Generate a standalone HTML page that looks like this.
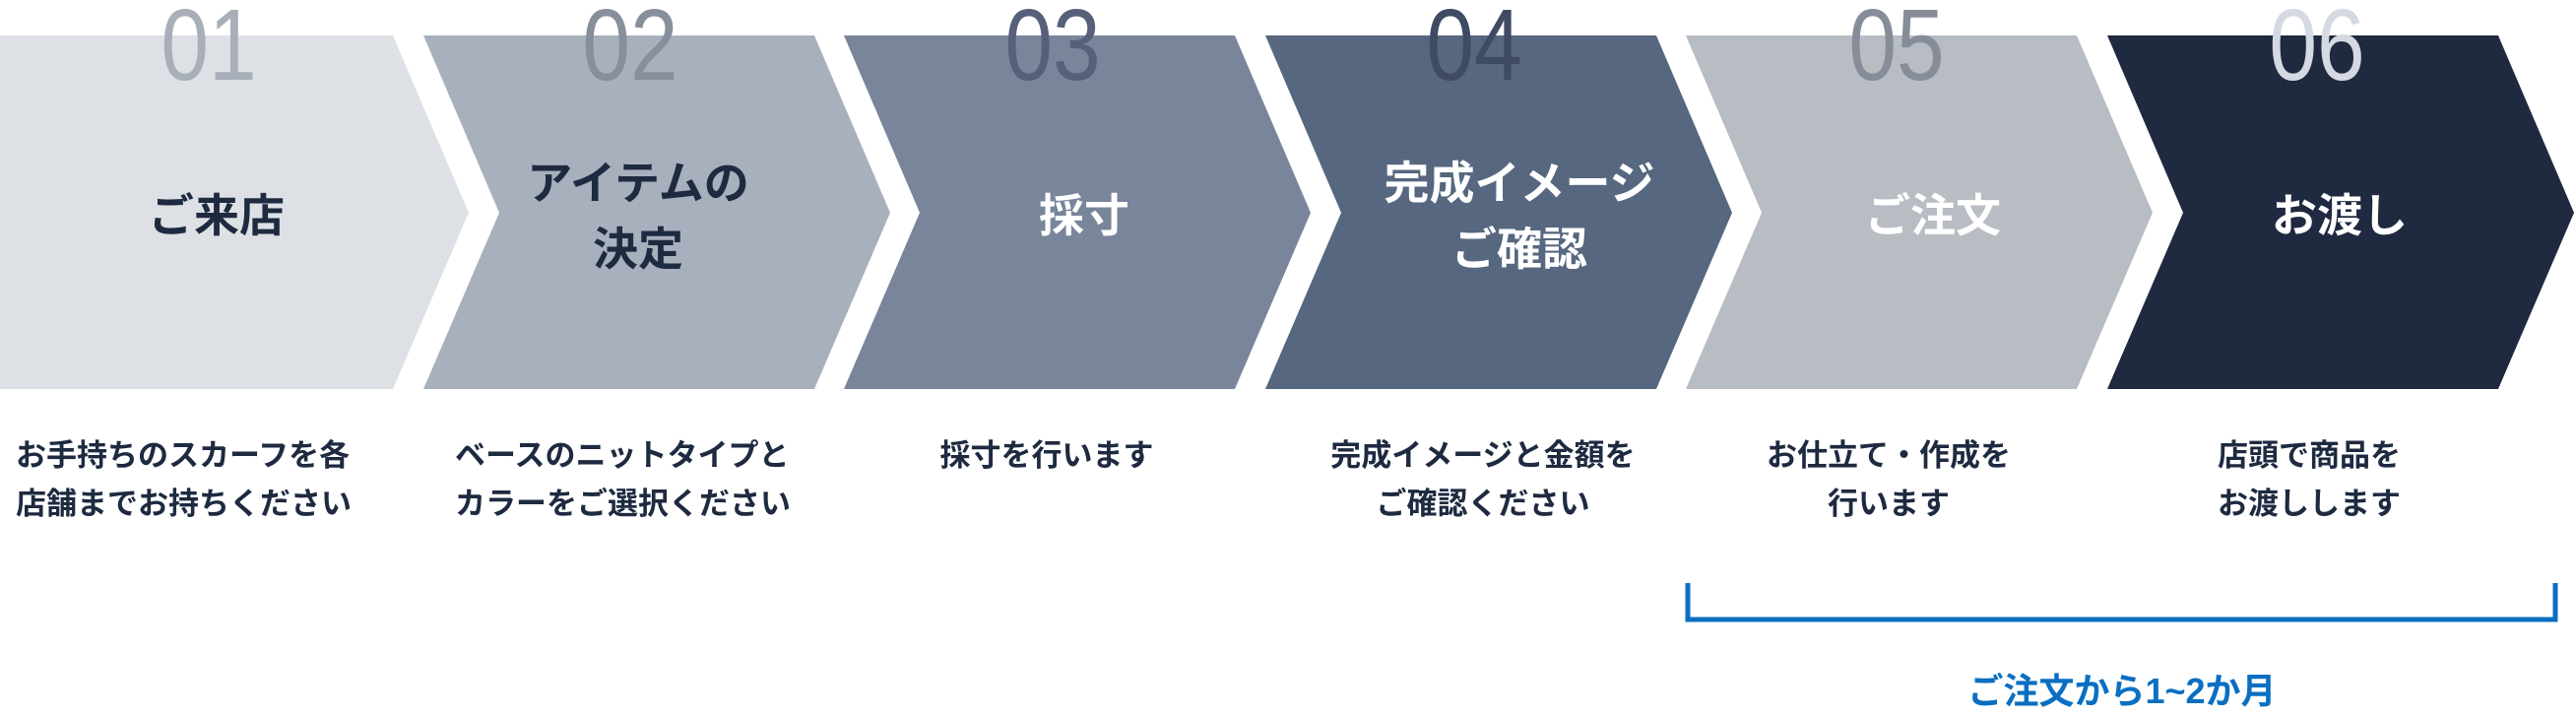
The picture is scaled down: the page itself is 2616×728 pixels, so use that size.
<!DOCTYPE html>
<html><head><meta charset="utf-8"><style>
html,body{margin:0;padding:0;background:#fff;}
svg{display:block}
.t{font-family:"Liberation Sans","Noto Sans CJK JP",sans-serif;font-weight:bold;}
.n{font-family:"Liberation Sans",sans-serif;font-size:103px;font-weight:300;}
</style></head><body>
<svg width="2616" height="728" viewBox="0 0 2616 728" xmlns="http://www.w3.org/2000/svg">
<polygon points="0,36 399,36 476,216 399,395 0,395" fill="#dde0e5"/>
<polygon points="430,36 827,36 904,216 827,395 430,395 507,216" fill="#a9b0bd"/>
<polygon points="857,36 1254,36 1331,216 1254,395 857,395 934,216" fill="#79859a"/>
<polygon points="1285,36 1682,36 1759,216 1682,395 1285,395 1362,216" fill="#56677f"/>
<polygon points="1712,36 2109,36 2186,216 2109,395 1712,395 1789,216" fill="#b8bdc4"/>
<polygon points="2140,36 2537,36 2614,216 2537,395 2140,395 2217,216" fill="#1f2940"/>

<g class="n" text-anchor="middle">
<text transform="translate(212,81) scale(0.85,1)" fill="#a9afb9">01</text>
<text transform="translate(640,81) scale(0.85,1)" fill="#878f9c">02</text>
<text transform="translate(1069,81) scale(0.85,1)" fill="#56607a">03</text>
<text transform="translate(1497,81) scale(0.85,1)" fill="#3f4b62">04</text>
<text transform="translate(1926,81) scale(0.85,1)" fill="#868d99">05</text>
<text transform="translate(2353,81) scale(0.85,1)" fill="#d4d9e2">06</text>
</g>

<g class="t" font-size="46" text-anchor="middle">
<text x="220" y="235" fill="#1e2a40">ご来店</text>
<text x="648" y="202" fill="#1e2a40">アイテムの</text>
<text x="648" y="269" fill="#1e2a40">決定</text>
<text x="1101" y="235" fill="#fff">採寸</text>
<text x="1543" y="202" fill="#fff">完成イメージ</text>
<text x="1543" y="269" fill="#fff">ご確認</text>
<text x="1963" y="235" fill="#fff">ご注文</text>
<text x="2376" y="235" fill="#fff">お渡し</text>
</g>

<g class="t" font-size="31" fill="#1e2a40">
<text x="16" y="473">お手持ちのスカーフを各</text>
<text x="16" y="522">店舗までお持ちください</text>
<text x="462" y="473">ベースのニットタイプと</text>
<text x="462" y="522">カラーをご選択ください</text>
<g text-anchor="middle">
<text x="1063" y="473">採寸を行います</text>
<text x="1506" y="473">完成イメージと金額を</text>
<text x="1506" y="522">ご確認ください</text>
<text x="1918" y="473">お仕立て・作成を</text>
<text x="1918" y="522">行います</text>
<text x="2345" y="473">店頭で商品を</text>
<text x="2345" y="522">お渡しします</text>
</g>
</g>

<polyline points="1714,592 1714,629 2595,629 2595,592" fill="none" stroke="#0a6fc2" stroke-width="5"/>
<text class="t" x="2155" y="714" font-size="36" fill="#0a6fc2" text-anchor="middle">ご注文から1~2か月</text>
</svg>
</body></html>
